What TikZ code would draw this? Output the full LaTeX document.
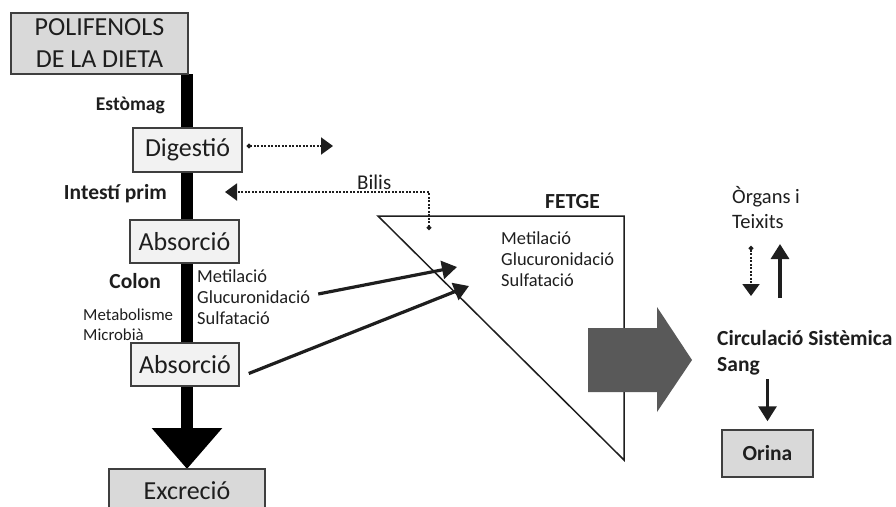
\documentclass[tikz,border=0pt]{standalone}
\usepackage{fontspec}
\setmainfont{Carlito}
\usetikzlibrary{arrows.meta}

\definecolor{boxgray}{HTML}{D9D9D9}
\definecolor{boxlight}{HTML}{F2F2F2}
\definecolor{arrowgray}{HTML}{595959}
\definecolor{edgegray}{HTML}{3F3F3F}
\definecolor{inkgray}{HTML}{1E1E1E}

\newcommand{\boxfont}{\fontsize{26}{32}\selectfont}
\newcommand{\labfont}{\bfseries\fontsize{21.5}{26}\selectfont}
\newcommand{\metfont}{\fontsize{18.4}{21}\selectfont}

\begin{document}
\begin{tikzpicture}[x=1pt,y=-1pt,
  box/.style={draw=edgegray, line width=1.5pt, inner sep=0pt, text=inkgray, font=\boxfont},
  lab/.style={inner sep=0pt, text=inkgray, font=\labfont},
  met/.style={inner sep=0pt, text=inkgray, align=left, font=\metfont},
  gut/.style={line width=12pt, -{Triangle[length=41pt,width=68pt]}},
  feed/.style={line width=3.2pt, inkgray, -{Triangle[length=15pt,width=18pt]}},
  leak/.style={line width=2pt, inkgray, dash pattern=on 2pt off 1.5pt,
    {Circle[length=4.5pt]}-{Triangle[length=12pt,width=17pt]}}]
  % frame
  \useasboundingbox (0,0) rectangle (896,506);
  \clip (0,0) rectangle (896,506);

  % tub digestiu
  \coordinate (guttop) at (187,74);
  \coordinate (gutend) at (187,469);
  \draw[gut] (guttop) -- (gutend);

  % caixes
  \node[box, fill=boxgray, minimum width=177, minimum height=61, align=center] (dieta) at (99.5,43.5) {POLIFENOLS\\DE LA DIETA};
  \node[box, fill=boxlight, minimum width=109, minimum height=44] (digestio) at (187.5,150) {Digesti\'o};
  \node[box, fill=boxlight, minimum width=109, minimum height=43] (absorcio1) at (184.5,241.5) {Absorci\'o};
  \node[box, fill=boxlight, minimum width=108, minimum height=43] (absorcio2) at (185,364.5) {Absorci\'o};
  \node[box, fill=boxgray, minimum width=156, minimum height=44] (excrecio) at (187,491) {Excreci\'o};
  \node[box, fill=boxgray, minimum width=91, minimum height=47, font=\labfont] (orina) at (767.5,453.5) {Orina};

  % etiquetes
  \node[lab, anchor=east, font=\bfseries\fontsize{19.5}{23}\selectfont] (estomag) at (165,105) {Estòmag};
  \node[lab, anchor=east] (intestí) at (167,194) {Intestí prim};
  \node[lab, anchor=east] (colon) at (161,281) {Colon};
  \node[met, anchor=west, font=\fontsize{16.8}{20}\selectfont] (microbia) at (83,325) {Metabolisme\\Microbià};
  \node[met, anchor=west] (metintest) at (197,297) {Metilació\\Glucuronidació\\Sulfatació};

  % fetge
  \coordinate (fetgeA) at (378,216);
  \coordinate (fetgeB) at (624,216);
  \coordinate (fetgeC) at (624,460);
  \draw[line width=1.5pt, inkgray] (fetgeA) -- (fetgeB) -- (fetgeC) -- cycle;
  \node[lab, anchor=west] (fetge) at (545,202) {FETGE};
  \node[met, anchor=west] (metfetge) at (501,259) {Metilació\\Glucuronidació\\Sulfatació};

  % sortida cap a la sang
  \fill[arrowgray] (588,328) -- (657,328) -- (657,307) -- (692,360) -- (657,412) -- (657,392) -- (588,392) -- cycle;

  \node[met, anchor=west, font=\fontsize{20.5}{25}\selectfont] (organs) at (732,208) {Òrgans i\\Teixits};
  \node[lab, anchor=west, align=left] (sang) at (717,353) {Circulació Sistèmica\\Sang};

  % fletxes
  \coordinate (excess) at (333,146);
  \draw[leak] ([xshift=4pt]digestio.east |- excess) -- (excess);
  \coordinate (bilisdot) at (429,230);
  \coordinate (bilistip) at (225,192);
  \draw[leak] (bilisdot) |- (bilistip);
  \node[met, anchor=west, font=\fontsize{21}{25}\selectfont] (bilis) at (357,182) {Bilis};

  \coordinate (cap1) at (457,267);
  \coordinate (cap2) at (469,286);
  \draw[feed] ([xshift=8pt,yshift=3pt]metintest.east) -- (cap1);
  \draw[feed] ([xshift=9pt,yshift=-9pt]absorcio2.east) -- (cap2);

  \coordinate (teixitA) at (751,246);
  \coordinate (teixitB) at (751,296);
  \coordinate (teixitC) at (780,298);
  \coordinate (teixitD) at (780,244);
  \draw[leak] (teixitA) -- (teixitB);
  \draw[feed] (teixitC) -- (teixitD);
  \draw[feed] ([yshift=50pt]orina.north) -- ([yshift=8pt]orina.north);
\end{tikzpicture}
\end{document}
